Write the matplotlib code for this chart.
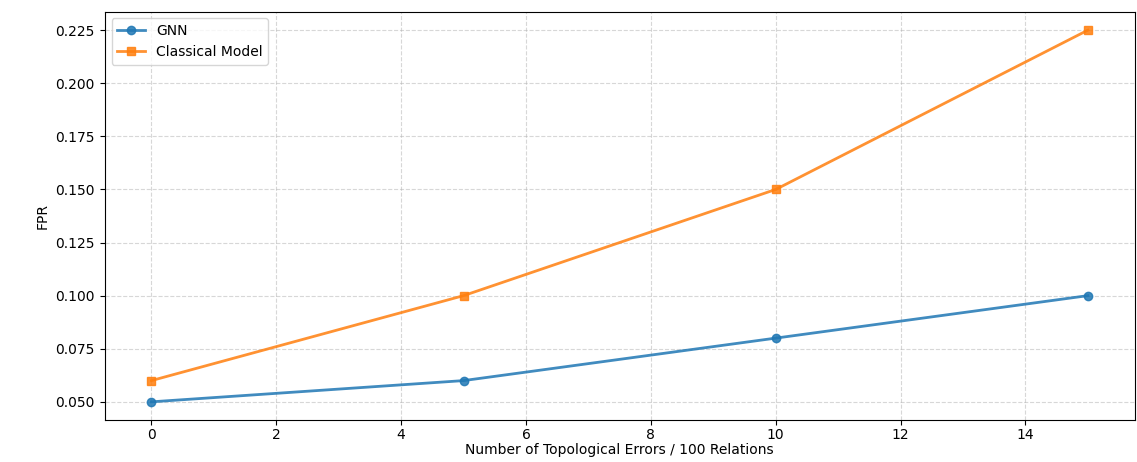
import matplotlib
matplotlib.use("Agg")
import matplotlib.pyplot as plt

# data
errors = [0, 5, 10, 15]
gnn_fpr = [0.05, 0.06, 0.08, 0.10]
classical_fpr = [0.06, 0.10, 0.15, 0.225]

fig, ax = plt.subplots(figsize=(11.37, 4.62), dpi=100)

ax.plot(errors, gnn_fpr, marker="o", color="#1f77b4", linewidth=2,
        alpha=0.85, label="GNN")
ax.plot(errors, classical_fpr, marker="s", color="#ff7f0e", linewidth=2,
        alpha=0.85, label="Classical Model")

ax.set_xlabel("Number of Topological Errors / 100 Relations", labelpad=1)
ax.set_ylabel("FPR")
ax.tick_params(axis="x", pad=2)
ax.grid(True, linestyle="--", alpha=0.5)
ax.legend(loc="upper left")

fig.subplots_adjust(left=0.092, right=0.998, top=0.975, bottom=0.09)
fig.savefig("out.png", dpi=100)
